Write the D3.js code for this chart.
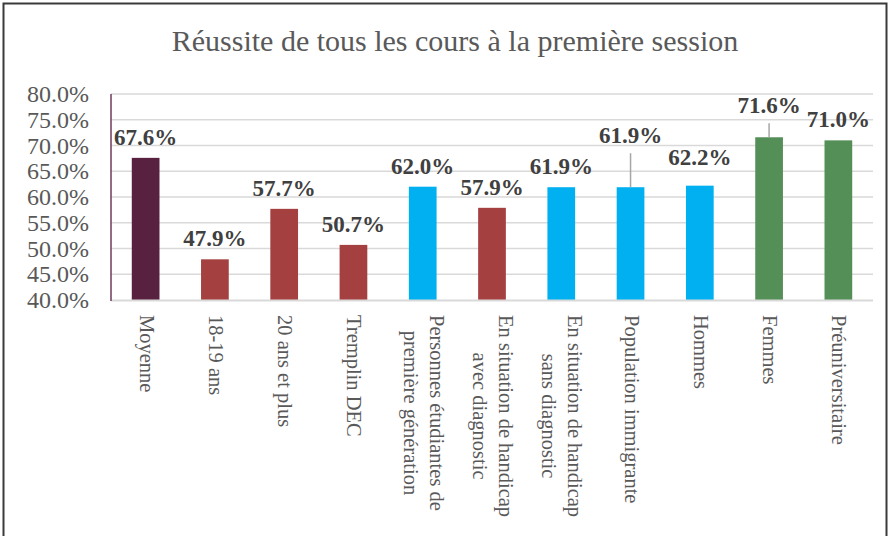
<!DOCTYPE html>
<html>
<head>
<meta charset="utf-8">
<script src="https://cdn.jsdelivr.net/npm/d3@7"></script>
<style>
  body { margin: 0; background: #fff; }
  svg text { font-family: "Liberation Serif", "DejaVu Serif", serif; }
</style>
</head>
<body>
<svg></svg>
<script>
// chart data
let categories = [
    'Moyenne', '18-19 ans', '20 ans et plus', 'Tremplin DEC',
    'Personnes étudiantes de\npremière génération',
    'En situation de handicap\navec diagnostic',
    'En situation de handicap\nsans diagnostic',
    'Population immigrante', 'Hommes', 'Femmes', 'Préuniversitaire'
]
let values = [67.6, 47.9, 57.7, 50.7, 62.0, 57.9, 61.9, 61.9, 62.2, 71.6, 71.0]
let groups = ['moy', 'rouge', 'rouge', 'rouge', 'bleu', 'rouge', 'bleu', 'bleu', 'bleu', 'vert', 'vert']
let yTicks = [40, 45, 50, 55, 60, 65, 70, 75, 80]

// colours for each group
let colors = { moy: '#58213f', rouge: '#a4403f', bleu: '#00b0f0', vert: '#558f58' }
// labels that excel pushed upward (px), leader line drawn when big
let labelLift = { 'Population immigrante': 31, 'Femmes': 11, 'Hommes': 8 }

let width = 891
let height = 536
let plotLeft = 111
let plotRight = 873
let plotTop = 94
let plotBottom = 300

let svg = d3.select('svg')
    .attr('width', width)
    .attr('height', height)

// frame
svg.append('rect')
    .attr('x', 3.5).attr('y', 3.5)
    .attr('width', 883).attr('height', 560)
    .attr('fill', 'none')
    .attr('stroke', '#3a3a3a')
    .attr('stroke-width', 2)

svg.append('text')
    .attr('x', 455)
    .attr('y', 51)
    .attr('text-anchor', 'middle')
    .attr('fill', '#595959')
    .style('font-size', '30px')
    .text('Réussite de tous les cours à la première session')

let xScale = d3.scaleBand()
    .domain(categories)
    .range([plotLeft, plotRight])
    .paddingInner(0.6)
    .paddingOuter(0.3)

let yScale = d3.scaleLinear()
    .domain([40, 80])
    .range([plotBottom, plotTop])

// gridlines
svg.append('g')
    .selectAll('line')
    .data(yTicks.slice(1))
    .enter()
    .append('line')
    .attr('x1', plotLeft).attr('x2', plotRight)
    .attr('y1', d => yScale(d)).attr('y2', d => yScale(d))
    .attr('stroke', '#d9d9d9')
    .attr('stroke-width', 1.5)

// y axis
let yAxis = d3.axisLeft(yScale)
    .tickValues(yTicks)
    .tickSize(0)
    .tickPadding(22)
    .tickFormat(d => d.toFixed(1) + '%')
let yG = svg.append('g')
    .attr('transform', 'translate(' + plotLeft + ',0)')
    .call(yAxis)
yG.select('.domain').remove()
yG.selectAll('text')
    .attr('fill', '#595959')
    .style('font-size', '24px')
    .style('font-family', '"Liberation Serif", serif')

// bars
svg.selectAll('.bar')
    .data(values)
    .enter()
    .append('rect')
    .attr('class', 'bar')
    .attr('x', (d, i) => xScale(categories[i]))
    .attr('width', xScale.bandwidth())
    .attr('y', d => yScale(d))
    .attr('height', d => plotBottom - yScale(d))
    .attr('fill', (d, i) => colors[groups[i]])

// axis lines
svg.append('line')
    .attr('x1', plotLeft).attr('x2', plotRight)
    .attr('y1', plotBottom + 0.5).attr('y2', plotBottom + 0.5)
    .attr('stroke', '#d9d9d9').attr('stroke-width', 2)
svg.append('line')
    .attr('x1', plotLeft).attr('x2', plotLeft)
    .attr('y1', plotTop).attr('y2', plotBottom + 1)
    .attr('stroke', '#6e3a5c').attr('stroke-width', 1.5)

// data labels
values.forEach((d, i) => {
    let cx = xScale(categories[i]) + xScale.bandwidth() / 2
    let lift = labelLift[categories[i]] || 0
    let baseY = yScale(d) - 13 - lift
    svg.append('text')
        .attr('x', cx)
        .attr('y', baseY)
        .attr('text-anchor', 'middle')
        .attr('fill', '#404040')
        .style('font-size', '23px')
        .style('font-weight', 'bold')
        .text(d.toFixed(1) + '%')
    if (lift > 10) {
        svg.append('line')
            .attr('x1', cx).attr('x2', cx)
            .attr('y1', baseY + 10).attr('y2', yScale(d))
            .attr('stroke', '#a6a6a6').attr('stroke-width', 1.5)
    }
})

// category labels, rotated, centred lines
let lineGap = 26
categories.forEach((c, i) => {
    let lines = c.split('\n')
    let cx = xScale(c) + xScale.bandwidth() / 2
    let g = svg.append('g')
        .attr('transform', 'translate(' + cx + ',315) rotate(90)')
    let t = g.append('text')
        .attr('fill', '#595959')
        .style('font-size', '20.5px')
    lines.forEach((ln, k) => {
        t.append('tspan')
            .attr('x', 0)
            .attr('y', (k - (lines.length - 1) / 2) * lineGap + 6)
            .text(ln)
    })
    // centre the shorter lines on the longest one
    let spans = t.selectAll('tspan').nodes()
    let maxLen = d3.max(spans, s => s.getComputedTextLength())
    spans.forEach(s => {
        d3.select(s).attr('x', (maxLen - s.getComputedTextLength()) / 2)
    })
})
</script>
</body>
</html>
